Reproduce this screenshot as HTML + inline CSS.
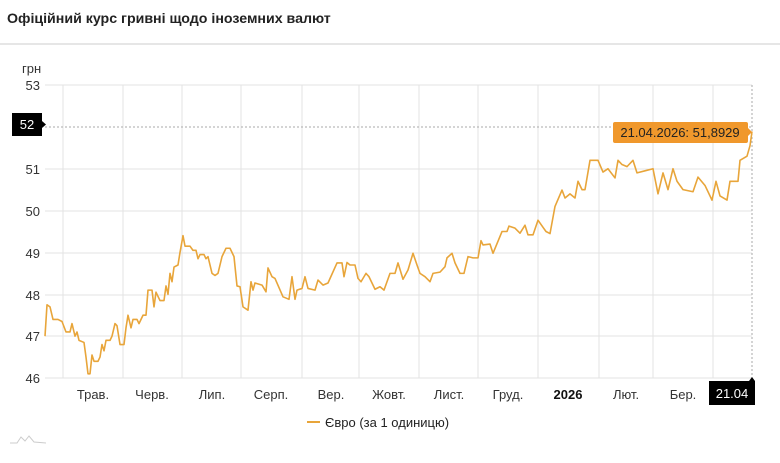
<!DOCTYPE html>
<html><head><meta charset="utf-8"><style>
body{margin:0;background:#fff;width:780px;height:458px;overflow:hidden;font-family:"Liberation Sans",sans-serif;}
svg text{font-family:"Liberation Sans",sans-serif;}
</style></head><body>
<svg width="780" height="458" xmlns="http://www.w3.org/2000/svg">
<text x="7" y="23" font-size="14.2" font-weight="bold" fill="#222">Офіційний курс гривні щодо іноземних валют</text>
<line x1="0" y1="44" x2="780" y2="44" stroke="#ddd" stroke-width="1.5"/>
<text x="22" y="73" font-size="13" fill="#333">грн</text>
<g stroke="#e3e3e3" stroke-width="1">
<line x1="45" y1="85" x2="752" y2="85"/><line x1="45" y1="169" x2="752" y2="169"/>
<line x1="45" y1="211" x2="752" y2="211"/><line x1="45" y1="253" x2="752" y2="253"/>
<line x1="45" y1="295" x2="752" y2="295"/><line x1="45" y1="336" x2="752" y2="336"/>
<line x1="45" y1="378" x2="752" y2="378"/>
<line x1="63" y1="85" x2="63" y2="378"/><line x1="123" y1="85" x2="123" y2="378"/>
<line x1="182" y1="85" x2="182" y2="378"/><line x1="241" y1="85" x2="241" y2="378"/>
<line x1="302" y1="85" x2="302" y2="378"/><line x1="359" y1="85" x2="359" y2="378"/>
<line x1="419" y1="85" x2="419" y2="378"/><line x1="478" y1="85" x2="478" y2="378"/>
<line x1="538" y1="85" x2="538" y2="378"/><line x1="599" y1="85" x2="599" y2="378"/>
<line x1="653" y1="85" x2="653" y2="378"/><line x1="713" y1="85" x2="713" y2="378"/>
</g>
<g font-size="13" fill="#333" text-anchor="end">
<text x="40" y="90">53</text><text x="40" y="174">51</text><text x="40" y="216">50</text>
<text x="40" y="258">49</text><text x="40" y="300">48</text><text x="40" y="341">47</text><text x="40" y="383">46</text>
</g>
<g font-size="13" fill="#333" text-anchor="middle">
<text x="93" y="399">Трав.</text><text x="152" y="399">Черв.</text><text x="212" y="399">Лип.</text>
<text x="271" y="399">Серп.</text><text x="331" y="399">Вер.</text><text x="389" y="399">Жовт.</text>
<text x="449" y="399">Лист.</text><text x="508" y="399">Груд.</text><text x="568" y="399" font-weight="bold" fill="#111">2026</text>
<text x="626" y="399">Лют.</text><text x="683" y="399">Бер.</text>
</g>
<line x1="45" y1="127" x2="752" y2="127" stroke="#aaa" stroke-dasharray="2,2"/>
<line x1="752" y1="85" x2="752" y2="378" stroke="#aaa" stroke-dasharray="2,2"/>
<g transform="matrix(1 0 0 -41.86 0 2303.58)">
<polyline fill="none" stroke="#e8a53a" stroke-width="1.6" vector-effect="non-scaling-stroke" stroke-linejoin="round" points="
45,47.0 47,47.75 50,47.7 53,47.4 58,47.4 62,47.35 66,47.1 70,47.1 72,47.3 75,47.0 77,47.1 79,46.9 84,46.85 86,46.5 88,46.1 90,46.1 92,46.55 94,46.4 98,46.4 100,46.5 102,46.8 104,46.65 106,46.9 110,46.9 112,47.0 115,47.3 117,47.25 120,46.8 124,46.8 126,47.2 128,47.5 131,47.2 133,47.4 137,47.4 139,47.3 143,47.5 146,47.5 148,48.1 152,48.1 154,47.7 156,48.05 160,47.85 164,47.85 166,48.2 168,48.0 170,48.5 172,48.3 174,48.65 178,48.7 180,49.0 183,49.4 185,49.15 190,49.15 193,49.05 196,49.05 198,48.85 200,48.95 204,48.95 206,48.85 208,48.9 212,48.5 215,48.45 218,48.5 222,48.9 226,49.1 230,49.1 234,48.9 237,48.2 240,48.18 243,47.7 248,47.62 251,48.3 253,48.1 255,48.27 262,48.22 266,48.06 268,48.63 272,48.42 275,48.38 283,47.94 289,47.88 292,48.42 295,47.88 297,48.1 302,48.14 305,48.42 308,48.14 315,48.1 318,48.34 323,48.22 328,48.27 337,48.75 342,48.75 344,48.42 347,48.76 350,48.7 355,48.7 358,48.38 361,48.3 366,48.5 369,48.42 375,48.12 380,48.18 384,48.1 390,48.5 395,48.5 398,48.75 403,48.36 408,48.58 413,48.98 417,48.7 420,48.5 425,48.42 430,48.3 433,48.5 440,48.53 445,48.66 447,48.87 452,48.98 455,48.75 460,48.5 464,48.5 468,48.9 473,48.87 478,48.87 481,49.28 483,49.18 490,49.2 493,48.98 502,49.5 507,49.5 509,49.63 515,49.58 520,49.46 525,49.65 528,49.42 533,49.42 538,49.77 543,49.6 546,49.5 550,49.45 555,50.1 562,50.49 565,50.3 570,50.4 575,50.3 578,50.7 582,50.5 585,50.5 590,51.2 598,51.2 603,50.92 608,51.0 615,50.78 618,51.2 622,51.1 627,51.05 633,51.2 637,50.9 645,50.95 653,51.0 658,50.4 663,50.9 668,50.5 673,51.0 677,50.7 683,50.5 693,50.45 698,50.8 705,50.6 712,50.25 716,50.7 720,50.35 727,50.25 730,50.7 738,50.7 740,51.2 747,51.3 750,51.55 752,51.89"/>
</g>
<rect x="12" y="113" width="30" height="23" fill="#000"/>
<polygon points="42,121 46,124.5 42,128" fill="#000"/>
<text x="27" y="129" font-size="13" fill="#fff" text-anchor="middle">52</text>
<rect x="613" y="122" width="135" height="21" rx="2" fill="#f0982c"/>
<polygon points="748,128 752,132 748,136" fill="#f0982c"/>
<text x="680" y="137" font-size="13" fill="#222" text-anchor="middle">21.04.2026: 51,8929</text>
<rect x="709" y="381" width="46" height="24" fill="#000"/>
<polygon points="749,381 752,377 755,381" fill="#000"/>
<text x="732" y="398" font-size="13" fill="#fff" text-anchor="middle">21.04</text>
<line x1="307" y1="422" x2="320" y2="422" stroke="#e8a53a" stroke-width="2"/>
<text x="325" y="427" font-size="13" fill="#222">Євро (за 1 одиницю)</text>
<path d="M10,443 L17,443 L21,437 L25,441 L29,436 L34,442 L46,443" fill="none" stroke="#ccc" stroke-width="1"/>
</svg>
</body></html>
